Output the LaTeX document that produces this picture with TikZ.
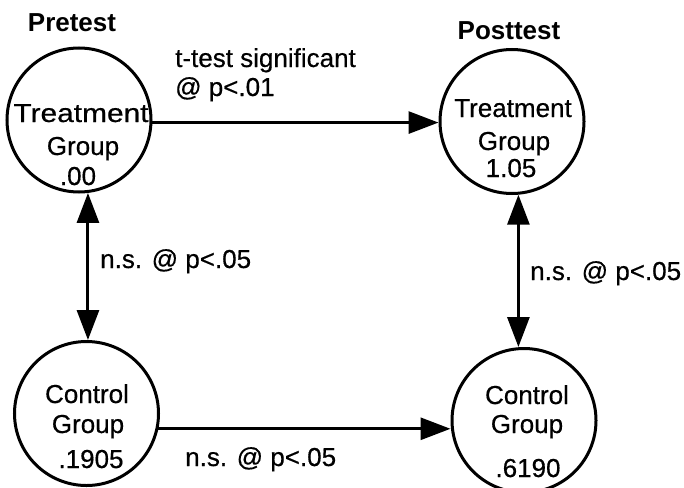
\documentclass[tikz,border=0pt]{standalone}
\usepackage{fontspec}
\setmainfont{Liberation Sans}
\newfontfamily\heavyfont{Liberation Sans}[FakeBold=0.5]
\usetikzlibrary{arrows.meta}
\begin{document}
\begin{tikzpicture}[x=1pt,y=-1pt,
  grp/.style={circle,draw,line width=3pt,minimum size=144pt,inner sep=0pt},
  txt/.style={anchor=base,inner sep=0pt,font=\fontsize{26}{30}\heavyfont},
  lbl/.style={anchor=base west,inner sep=0pt,font=\fontsize{26}{30}\heavyfont},
  hdr/.style={anchor=base,inner sep=0pt,font=\fontsize{26}{30}\selectfont\bfseries},
  conn/.style={line width=3pt,-{Triangle[length=30pt,width=22pt]}},
  conn2/.style={line width=3pt,{Triangle[length=30pt,width=22pt]}-{Triangle[length=30pt,width=22pt]}}]
\useasboundingbox (0,0) rectangle (684,487);
% circles
\node[grp] (TL) at (79,120) {};
\node[grp] (TR) at (512,121.5) {};
\node[grp] (BL) at (86.5,413.5) {};
\node[grp] (BR) at (524,420.5) {};
% circle texts
\node[txt] (TL1) at (81,122) {\scalebox{1.15}[1]{Treatment}};
\node[txt] (TL2) at (83,155) {Group};
\node[txt] (TL3) at (78,185) {.00};
\node[txt] (TR1) at (513,117) {Treatment};
\node[txt] (TR2) at (514,150) {Group};
\node[txt] (TR3) at (511,177) {1.05};
\node[txt] (BL1) at (87,403) {Control};
\node[txt] (BL2) at (88,433) {Group};
\node[txt] (BL3) at (91,468) {.1905};
\node[txt] (BR1) at (527,404) {Control};
\node[txt] (BR2) at (527,433) {Group};
\node[txt] (BR3) at (528,477) {.6190};
% headers
\node[hdr] (pre) at (72,32) {Pretest};
\node[hdr] (post) at (509,40) {Posttest};
% connector labels
\node[lbl] (ttest1) at (175,67) {t-test significant};
\node[lbl] (ttest2) at (175,96) {@ p<.01};
\node[lbl] (nsL) at (100,268) {n.s. @ p<.05};
\node[lbl] (nsR) at (530,280) {n.s. @ p<.05};
\node[lbl] (nsB) at (185,466) {n.s. @ p<.05};
% connectors
\draw[conn] (TL.-2) -- (TL.-2 -| TR.west);
\draw[conn] (BL.-12) -- (BL.-12 -| BR.west);
\draw[conn2] (TL.-83) -- (TL.-83 |- BL.north);
\draw[conn2] (TR.-85) -- (TR.-85 |- BR.north);
\end{tikzpicture}
\end{document}
